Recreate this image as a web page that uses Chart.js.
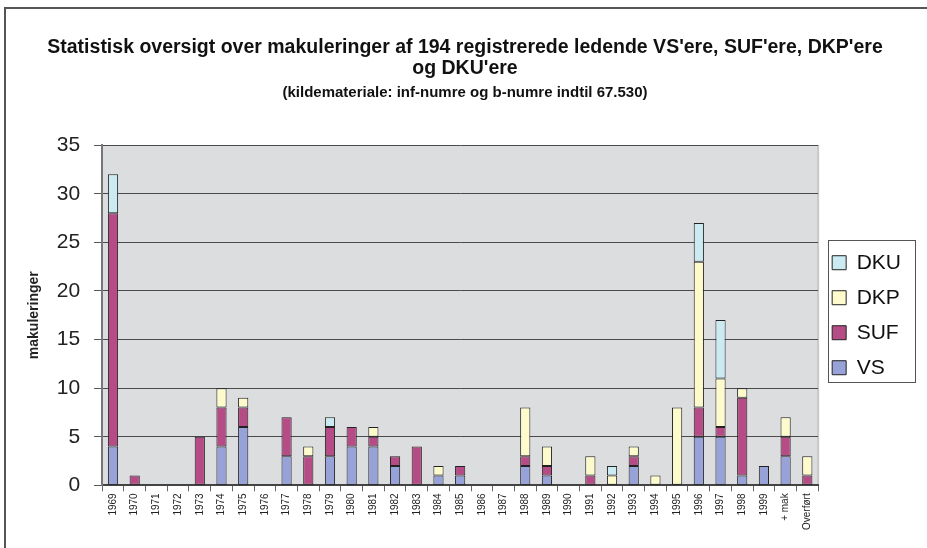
<!DOCTYPE html>
<html>
<head>
<meta charset="utf-8">
<title>Makuleringer</title>
<style>
    body { margin: 0; background: #fff; }
    #wrap { position: relative; width: 927px; height: 548px; overflow: hidden; }
    #frame { position: absolute; left: 4px; top: 7px; width: 1000px; height: 600px;
             border-left: 2px solid #555; border-top: 2px solid #555; pointer-events: none; }
</style>
</head>
<body>
<div id="wrap">
    <canvas id="chart" width="927" height="548"></canvas>
    <div id="frame"></div>
</div>

<script src="https://cdn.jsdelivr.net/npm/chart.js"></script>

<script>
    // categories
    const years = ['1969', '1970', '1971', '1972', '1973', '1974', '1975', '1976', '1977', '1978',
        '1979', '1980', '1981', '1982', '1983', '1984', '1985', '1986', '1987', '1988',
        '1989', '1990', '1991', '1992', '1993', '1994', '1995', '1996', '1997', '1998',
        '1999', '+ mak', 'Overført']
    // series, bottom to top
    const vs  = [4, 0, 0, 0, 0, 4, 6, 0, 3, 0, 3, 4, 4, 2, 0, 1, 1, 0, 0, 2, 1, 0, 0, 0, 2, 0, 0, 5, 5, 1, 2, 3, 0]
    const suf = [24, 1, 0, 0, 5, 4, 2, 0, 4, 3, 3, 2, 1, 1, 4, 0, 1, 0, 0, 1, 1, 0, 1, 0, 1, 0, 0, 3, 1, 8, 0, 2, 1]
    const dkp = [0, 0, 0, 0, 0, 2, 1, 0, 0, 1, 0, 0, 1, 0, 0, 1, 0, 0, 0, 5, 2, 0, 2, 1, 1, 1, 8, 15, 5, 1, 0, 2, 2]
    const dku = [4, 0, 0, 0, 0, 0, 0, 0, 0, 0, 1, 0, 0, 0, 0, 0, 0, 0, 0, 0, 0, 0, 0, 1, 0, 0, 0, 4, 6, 0, 0, 0, 0]
    const yTicks = [0, 5, 10, 15, 20, 25, 30, 35]

    const titleCenterX = 465

    Chart.defaults.font.family = "Arial, 'Liberation Sans', sans-serif"
    Chart.defaults.color = '#222'

    // empty cells should not draw a flat bar
    const orNull = arr => arr.map(v => v === 0 ? null : v)

    function series(label, data, color) {
        return {
            label: label,
            data: orNull(data),
            backgroundColor: color,
            borderColor: '#222',
            borderWidth: 1,
            borderSkipped: false,
            barPercentage: 0.47,
            categoryPercentage: 1
        }
    }

    // gray plot area + light right edge
    const plotBackground = {
        id: 'plotBackground',
        beforeDraw(chart) {
            const {ctx, chartArea: a} = chart
            ctx.save()
            ctx.fillStyle = '#dcdddf'
            ctx.fillRect(a.left, a.top, a.width, a.height)
            ctx.strokeStyle = '#c8c8c8'
            ctx.lineWidth = 2
            ctx.beginPath()
            ctx.moveTo(a.right, a.top)
            ctx.lineTo(a.right, a.bottom)
            ctx.stroke()
            ctx.restore()
        }
    }

    // the original title is centred over the whole sheet, not the padded box
    const centerTitles = {
        id: 'centerTitles',
        afterLayout(chart) {
            chart.boxes.forEach(box => {
                if (box !== chart.legend && box.options && box.options.text !== undefined) {
                    box.right = 2 * titleCenterX - box.left
                }
            })
        }
    }

    // frame around the legend
    const legendFrame = {
        id: 'legendFrame',
        afterDraw(chart) {
            const boxes = chart.legend.legendHitBoxes
            if (!boxes || !boxes.length) return
            const first = boxes[0], last = boxes[boxes.length - 1]
            let right = 0
            boxes.forEach(b => { right = Math.max(right, b.left + b.width) })
            const ctx = chart.ctx
            ctx.save()
            ctx.strokeStyle = '#555'
            ctx.lineWidth = 1
            ctx.strokeRect(Math.round(first.left - 4) + 0.5, Math.round(first.top - 12) + 0.5,
                Math.round(right - first.left + 18), Math.round(last.top + last.height - first.top + 16))
            ctx.restore()
        }
    }

    new Chart(document.getElementById('chart'), {
        type: 'bar',
        data: {
            labels: years,
            datasets: [
                series('VS', vs, '#97a2d8'),
                series('SUF', suf, '#b54c85'),
                series('DKP', dkp, '#fdfbcb'),
                series('DKU', dku, '#cbeaf2')
            ]
        },
        plugins: [plotBackground, centerTitles, legendFrame],
        options: {
            responsive: false,
            animation: false,
            layout: {
                padding: {left: 10, right: 16, top: 0, bottom: 16}
            },
            plugins: {
                title: {
                    display: true,
                    text: ["Statistisk oversigt over makuleringer af 194 registrerede ledende VS'ere, SUF'ere, DKP'ere", "og DKU'ere"],
                    font: {size: 19.5, weight: 'bold', lineHeight: 1.08},
                    color: '#111',
                    padding: {top: 37, bottom: 0}
                },
                subtitle: {
                    display: true,
                    text: '(kildemateriale: inf-numre og b-numre indtil 67.530)',
                    font: {size: 15, weight: 'bold', lineHeight: 1.2},
                    color: '#111',
                    padding: {top: 5, bottom: 43}
                },
                legend: {
                    position: 'right',
                    fullSize: false,
                    reverse: true,
                    labels: {
                        font: {size: 21},
                        color: '#111',
                        boxWidth: 14,
                        boxHeight: 14,
                        padding: 14
                    }
                },
                tooltip: {enabled: false}
            },
            scales: {
                x: {
                    stacked: true,
                    ticks: {
                        autoSkip: false,
                        minRotation: 90,
                        maxRotation: 90,
                        padding: 2,
                        font: {size: 10}
                    },
                    grid: {
                        drawOnChartArea: false,
                        offset: true,
                        tickLength: 6,
                        tickColor: '#666'
                    },
                    border: {color: '#444', width: 2}
                },
                y: {
                    stacked: true,
                    min: 0,
                    max: 35,
                    afterBuildTicks: axis => { axis.ticks = yTicks.map(v => ({value: v})) },
                    ticks: {
                        padding: 14,
                        font: {size: 21}
                    },
                    grid: {
                        color: '#4a4a4a',
                        tickLength: 8,
                        tickColor: '#555'
                    },
                    border: {color: '#777', width: 2},
                    title: {
                        display: true,
                        text: 'makuleringer',
                        font: {size: 14, weight: 'bold'},
                        padding: {top: 16, bottom: 0}
                    }
                }
            }
        }
    });
</script>
</body>
</html>
